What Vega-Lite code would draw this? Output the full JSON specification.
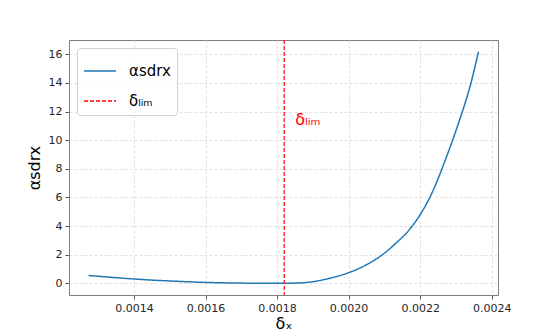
{
  "$schema": "https://vega.github.io/schema/vega-lite/v6.json",
  "autosize": {"type": "none"},
  "width": 429,
  "height": 255,
  "padding": {"left": 69, "top": 40, "right": 56, "bottom": 37},
  "background": "white",
  "config": {
    "font": "DejaVu Sans",
    "view": {"stroke": "#7f7f7f", "strokeWidth": 1},
    "axis": {
      "labelFont": "DejaVu Sans",
      "labelFontSize": 11,
      "labelColor": "#262626",
      "labelOverlap": false,
      "tickColor": "#555",
      "tickSize": 4,
      "domainColor": "#7f7f7f",
      "gridColor": "#d9d9d9",
      "gridDash": [3, 2],
      "gridWidth": 0.8,
      "titleFont": "DejaVu Sans",
      "titleFontSize": 16,
      "titleFontWeight": "normal",
      "titleColor": "#000"
    }
  },
  "datasets": {
    "curve": [
      {"delta": 0.001273, "alpha": 0.54, "series": "αsdrx"},
      {"delta": 0.0013, "alpha": 0.49, "series": "αsdrx"},
      {"delta": 0.00135, "alpha": 0.39, "series": "αsdrx"},
      {"delta": 0.0014, "alpha": 0.3, "series": "αsdrx"},
      {"delta": 0.00145, "alpha": 0.22, "series": "αsdrx"},
      {"delta": 0.0015, "alpha": 0.16, "series": "αsdrx"},
      {"delta": 0.00155, "alpha": 0.105, "series": "αsdrx"},
      {"delta": 0.0016, "alpha": 0.06, "series": "αsdrx"},
      {"delta": 0.00165, "alpha": 0.03, "series": "αsdrx"},
      {"delta": 0.0017, "alpha": 0.012, "series": "αsdrx"},
      {"delta": 0.00175, "alpha": 0.003, "series": "αsdrx"},
      {"delta": 0.0018, "alpha": 0.0, "series": "αsdrx"},
      {"delta": 0.00182, "alpha": 0.0, "series": "αsdrx"},
      {"delta": 0.00185, "alpha": 0.01, "series": "αsdrx"},
      {"delta": 0.0019, "alpha": 0.11, "series": "αsdrx"},
      {"delta": 0.001947, "alpha": 0.35, "series": "αsdrx"},
      {"delta": 0.002, "alpha": 0.74, "series": "αsdrx"},
      {"delta": 0.00205, "alpha": 1.3, "series": "αsdrx"},
      {"delta": 0.0021, "alpha": 2.1, "series": "αsdrx"},
      {"delta": 0.00213, "alpha": 2.75, "series": "αsdrx"},
      {"delta": 0.00217, "alpha": 3.75, "series": "αsdrx"},
      {"delta": 0.0022, "alpha": 4.8, "series": "αsdrx"},
      {"delta": 0.002226, "alpha": 5.95, "series": "αsdrx"},
      {"delta": 0.00225, "alpha": 7.3, "series": "αsdrx"},
      {"delta": 0.00227, "alpha": 8.6, "series": "αsdrx"},
      {"delta": 0.00229, "alpha": 9.95, "series": "αsdrx"},
      {"delta": 0.00231, "alpha": 11.4, "series": "αsdrx"},
      {"delta": 0.00232, "alpha": 12.15, "series": "αsdrx"},
      {"delta": 0.00233, "alpha": 12.95, "series": "αsdrx"},
      {"delta": 0.002342, "alpha": 14.0, "series": "αsdrx"},
      {"delta": 0.00235, "alpha": 14.8, "series": "αsdrx"},
      {"delta": 0.002363, "alpha": 16.19, "series": "αsdrx"}
    ],
    "limit": [
      {"delta": 0.00182, "alpha": 11.4, "series": "δₗᵢₘ", "label": "δₗᵢₘ"}
    ]
  },
  "layer": [
    {
      "data": {"name": "curve"},
      "mark": {"type": "line", "strokeWidth": 1.5, "interpolate": "monotone"},
      "encoding": {
        "x": {
          "field": "delta",
          "type": "quantitative",
          "scale": {"domain": [0.0012185, 0.0024175], "nice": false, "zero": false},
          "axis": {
            "values": [0.0014, 0.0016, 0.0018, 0.002, 0.0022, 0.0024],
            "format": ".4f",
            "title": "δₓ",
            "titlePadding": 2,
            "labelPadding": 3
          }
        },
        "y": {
          "field": "alpha",
          "type": "quantitative",
          "scale": {"domain": [-0.82, 17.0], "nice": false, "zero": false},
          "axis": {
            "values": [0, 2, 4, 6, 8, 10, 12, 14, 16],
            "tickCount": 9,
            "labelOverlap": false,
            "format": "d",
            "title": "αsdrx",
            "titlePadding": 6,
            "labelPadding": 3
          }
        },
        "color": {
          "field": "series",
          "type": "nominal",
          "scale": {"domain": ["αsdrx", "δₗᵢₘ"], "range": ["#1f77b4", "#ff0000"]},
          "legend": {
            "title": null,
            "orient": "top-left",
            "offset": 8,
            "symbolType": "stroke",
            "symbolSize": 1024,
            "symbolStrokeWidth": 1.5,
            "labelFontSize": 15,
            "labelFont": "DejaVu Sans",
            "labelColor": "#000",
            "labelOffset": 12,
            "rowPadding": 5,
            "padding": 6,
            "strokeColor": "#d0d0d0",
            "fillColor": "rgba(255,255,255,0.8)",
            "cornerRadius": 3
          }
        },
        "strokeDash": {
          "field": "series",
          "type": "nominal",
          "scale": {"domain": ["αsdrx", "δₗᵢₘ"], "range": [[1, 0], [4, 2]]},
          "legend": {
            "title": null,
            "orient": "top-left",
            "offset": 8,
            "symbolType": "stroke",
            "symbolSize": 1024,
            "symbolStrokeWidth": 1.5,
            "labelFontSize": 15,
            "labelFont": "DejaVu Sans",
            "labelColor": "#000",
            "labelOffset": 12,
            "rowPadding": 5,
            "padding": 6,
            "strokeColor": "#d0d0d0",
            "fillColor": "rgba(255,255,255,0.8)",
            "cornerRadius": 3
          }
        }
      }
    },
    {
      "data": {"name": "limit"},
      "mark": {"type": "rule", "strokeWidth": 1.2},
      "encoding": {
        "x": {"field": "delta", "type": "quantitative"},
        "color": {"field": "series", "type": "nominal"},
        "strokeDash": {"field": "series", "type": "nominal"}
      }
    },
    {
      "data": {"name": "limit"},
      "mark": {"type": "text", "align": "left", "baseline": "middle", "dx": 11, "fontSize": 16, "color": "#ff0000", "font": "DejaVu Sans"},
      "encoding": {
        "x": {"field": "delta", "type": "quantitative"},
        "y": {
          "field": "alpha",
          "type": "quantitative",
          "axis": {
            "values": [0, 2, 4, 6, 8, 10, 12, 14, 16],
            "tickCount": 9,
            "labelOverlap": false,
            "format": "d",
            "title": "αsdrx",
            "titlePadding": 6,
            "labelPadding": 3
          }
        },
        "text": {"field": "label"}
      }
    }
  ]
}
